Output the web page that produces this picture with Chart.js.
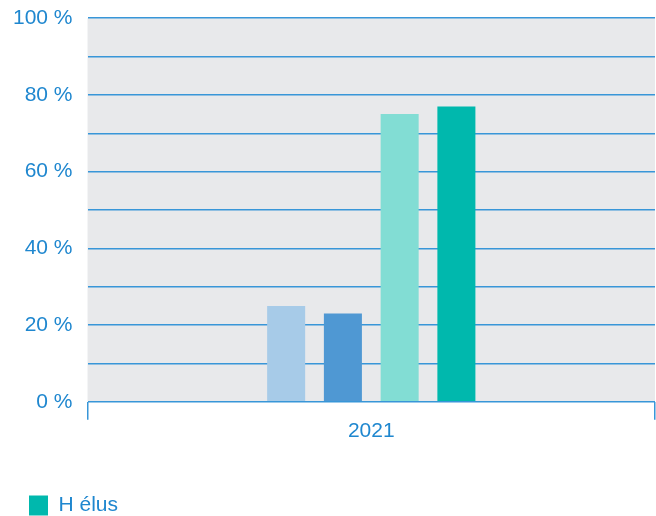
<!DOCTYPE html>
<html>
<head>
<meta charset="utf-8">
<script src="https://cdn.jsdelivr.net/npm/chart.js@4/dist/chart.umd.min.js"></script>
<style>
  html, body { margin: 0; padding: 0; background: #fff; }
  #wrap { width: 656px; height: 516px; position: relative; }
</style>
</head>
<body>
<div id="wrap"><canvas id="mainChart"></canvas></div>
<script>
const years = ["2021"];
const seriesNames = ["F candidates", "H candidats", "F élues", "H élus"];
const seriesValues = [[25], [23], [75], [77]];
const seriesColors = ["#a7cbe8", "#4f98d3", "#82ddd4", "#00b8ad"];
const legendShown = ["H élus"];
const yTicks = [0, 20, 40, 60, 80, 100];

const blue = "#1f87cf";
const gridBlue = "#3896d8";
const font = { family: "Liberation Sans", size: 21 };

// grey plot background
const plotBg = {
    id: 'plotBg',
    beforeDraw(chart) {
        const a = chart.chartArea;
        const ctx = chart.ctx;
        ctx.save();
        ctx.fillStyle = "#e8e9eb";
        ctx.fillRect(a.left, a.top, a.right - a.left, a.bottom - a.top);
        ctx.restore();
    }
};

const datasets = seriesNames.map((n, i) => ({
    label: n,
    data: seriesValues[i],
    backgroundColor: seriesColors[i],
    borderWidth: 0,
    categoryPercentage: 0.4,
    barPercentage: 0.67
}));

new Chart(document.getElementById("mainChart"), {
    type: 'bar',
    data: { labels: years, datasets: datasets },
    plugins: [plotBg],
    options: {
        responsive: true,
        maintainAspectRatio: false,
        animation: false,
        layout: { padding: { left: -2, right: 1, top: 0, bottom: -10 } },
        plugins: {
            tooltip: { enabled: false },
            legend: {
                position: 'bottom',
                align: 'start',
                labels: {
                    filter: item => legendShown.includes(item.text),
                    boxWidth: 19,
                    boxHeight: 20,
                    padding: 31,
                    color: blue,
                    font: font
                }
            }
        },
        scales: {
            x: {
                grid: {
                    offset: true,
                    drawOnChartArea: false,
                    drawTicks: true,
                    tickLength: 18,
                    color: gridBlue,
                    lineWidth: 1.5
                },
                border: { display: false },
                ticks: {
                    color: blue,
                    padding: -1,
                    font: font
                },
                afterFit(scale) { scale.height += 21; }
            },
            y: {
                min: 0,
                max: 100,
                ticks: {
                    stepSize: 10,
                    padding: 15,
                    color: blue,
                    font: { family: "Liberation Sans", size: 21, lineHeight: 0.3 },
                    callback: v => yTicks.includes(v) ? v + ' %' : ''
                },
                grid: {
                    drawTicks: false,
                    color: gridBlue,
                    lineWidth: 1.4
                },
                border: { display: false }
            }
        }
    }
});
</script>
</body>
</html>
